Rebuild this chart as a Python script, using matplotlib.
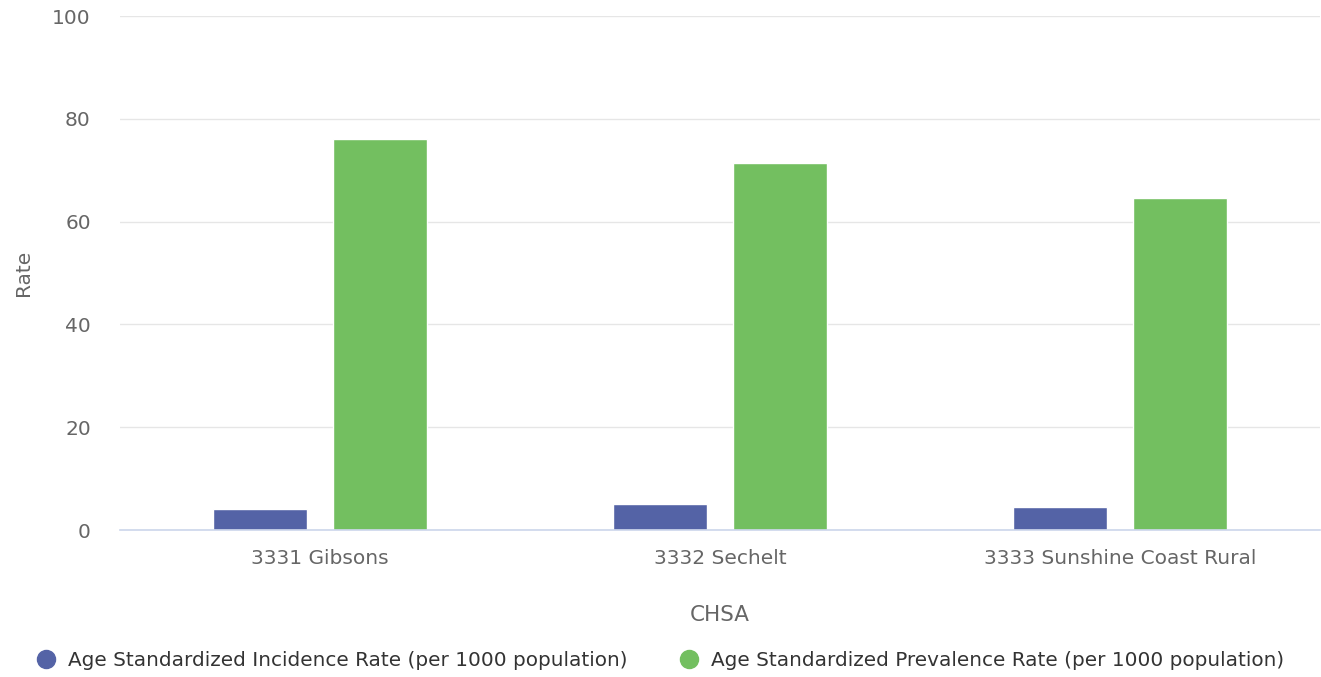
import matplotlib
matplotlib.use('Agg')
import matplotlib.pyplot as plt
import numpy as np
from matplotlib.lines import Line2D

categories = ['3331 Gibsons', '3332 Sechelt', '3333 Sunshine Coast Rural']
incidence = [4.0, 5.1, 4.4]
prevalence = [76.1, 71.4, 64.5]
series_names = ['Age Standardized Incidence Rate (per 1000 population)',
                'Age Standardized Prevalence Rate (per 1000 population)']
blue = '#5463a6'
green = '#73bf60'

plt.rcParams['font.family'] = ['DejaVu Sans']
fig = plt.figure(figsize=(13.21, 6.77), dpi=100)
W, H = 1321, 677
ax = fig.add_axes([120/W, (677-530)/H, 1200/W, 514/H])

x = np.arange(len(categories))
bw = 0.235
ax.bar(x - 0.1495, incidence, bw, color=blue, edgecolor='white', linewidth=1, zorder=3)
ax.bar(x + 0.1495, prevalence, bw, color=green, edgecolor='white', linewidth=1, zorder=3)

ax.set_xlim(-0.5, 2.5)
ax.set_ylim(0, 100)
ax.set_yticks([0, 20, 40, 60, 80, 100])
ax.set_xticks(x)
ax.set_xticklabels(categories)
ax.tick_params(axis='both', length=0, labelsize=14.5, colors='#666666')
ax.tick_params(axis='x', pad=14)
ax.tick_params(axis='y', pad=21)
ax.grid(axis='y', color='#e6e6e6', linewidth=1, zorder=0)
for s in ['top', 'right', 'left']:
    ax.spines[s].set_visible(False)
ax.spines['bottom'].set_color('#ccd6eb')
ax.spines['bottom'].set_linewidth(1.2)
ax.spines['bottom'].set_zorder(4)

ax.set_ylabel('Rate', fontsize=14.5, color='#666666', labelpad=14)
ax.set_xlabel('CHSA', fontsize=15.5, color='#666666', labelpad=26)

handles = [Line2D([], [], marker='o', linestyle='', markersize=13, color=c) for c in (blue, green)]
fig.legend(handles, series_names, loc='center', bbox_to_anchor=(660/W, 1 - 660/H), ncol=2,
           frameon=False, fontsize=14.4, labelcolor='#333333', handletextpad=0.6,
           columnspacing=2.6, handlelength=1.0)

fig.savefig('out.png', dpi=100)
